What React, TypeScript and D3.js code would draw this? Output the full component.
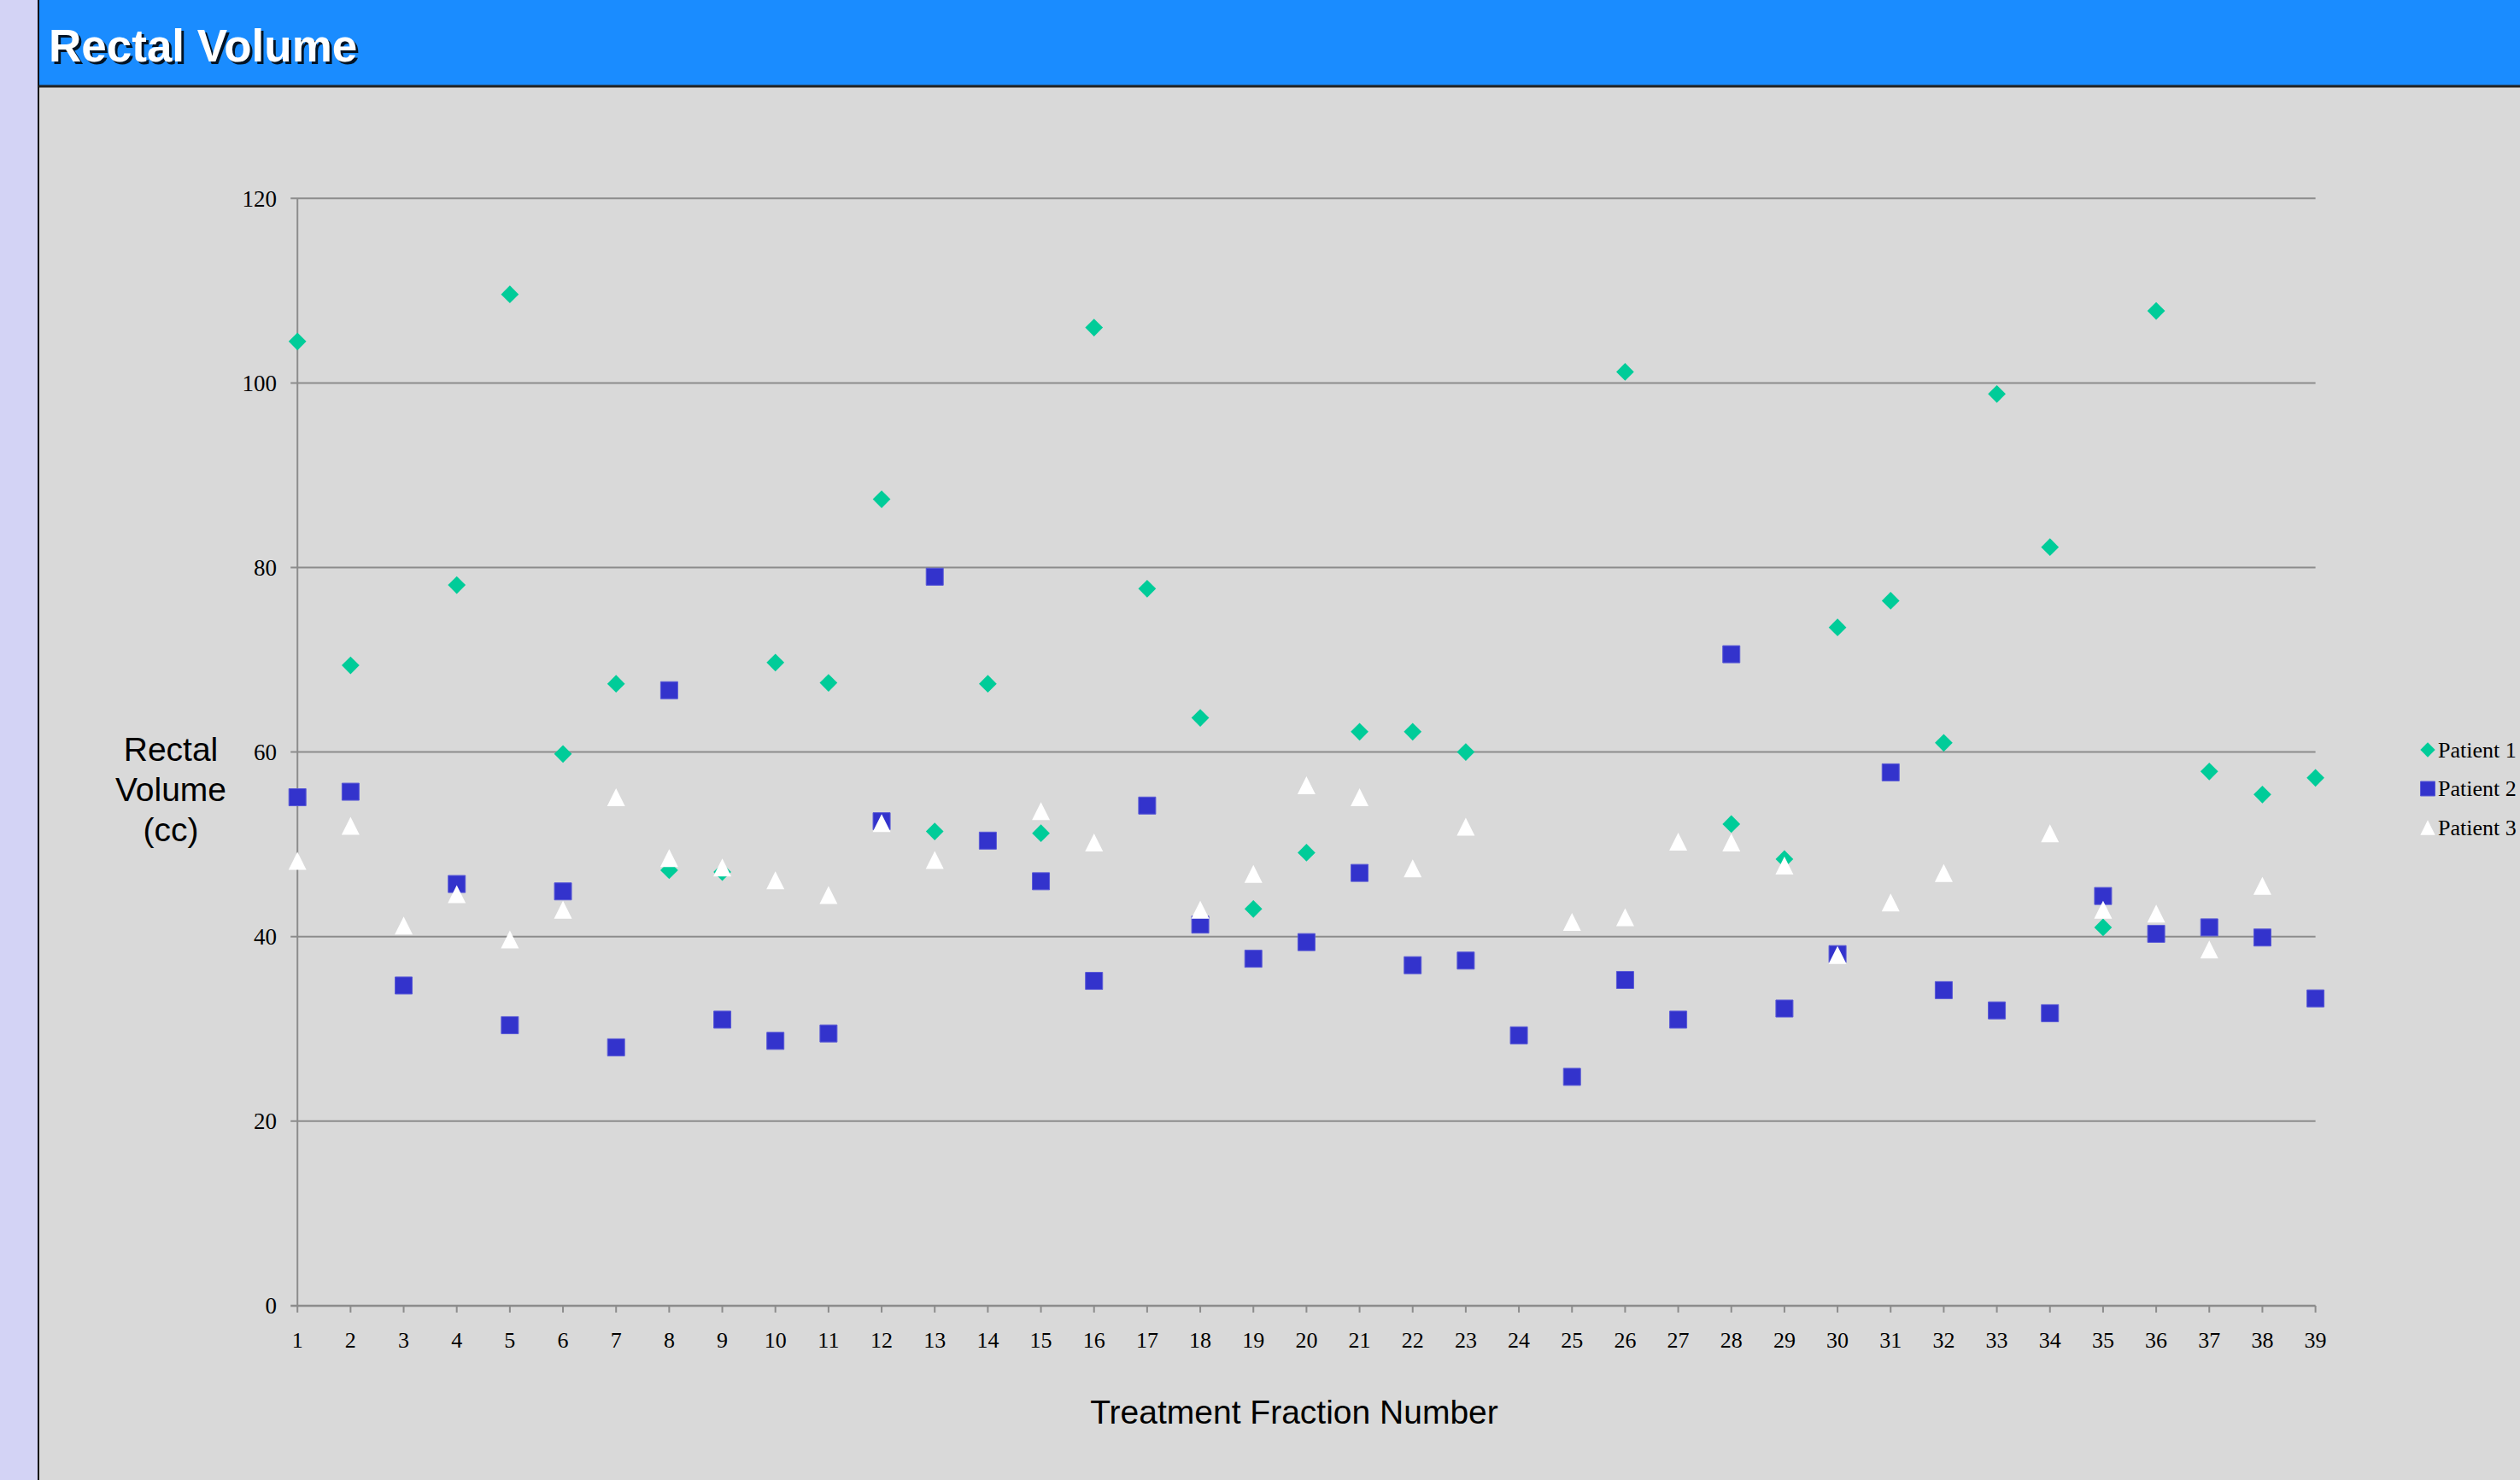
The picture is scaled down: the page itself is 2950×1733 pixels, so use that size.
import * as d3 from 'd3';
import React from 'react';

// treatment fractions (x categories)
const fractions = [
  1, 2, 3, 4, 5, 6, 7, 8, 9, 10, 11, 12, 13, 14, 15, 16, 17, 18, 19, 20,
  21, 22, 23, 24, 25, 26, 27, 28, 29, 30, 31, 32, 33, 34, 35, 36, 37, 38, 39,
];

// rectal volume (cc) per fraction, null = no marker drawn
const patient1 = [
  104.5, 69.4, null, 78.1, 109.6, 59.8, 67.4, 47.2, 47.0, 69.7, 67.5, 87.4, 51.4,
  67.4, 51.2, 106.0, 77.7, 63.7, 43.0, 49.1, 62.2, 62.2, 60.0, null, null, 101.2,
  null, 52.2, 48.4, 73.5, 76.4, 61.0, 98.8, 82.2, 41.0, 107.8, 57.9, 55.4, 57.2,
];
const patient2 = [
  55.1, 55.7, 34.7, 45.7, 30.4, 44.9, 28.0, 66.7, 31.0, 28.7, 29.5, 52.5, 79.0,
  50.4, 46.0, 35.2, 54.2, 41.3, 37.6, 39.4, 46.9, 36.9, 37.4, 29.3, 24.8, 35.3,
  31.0, 70.6, 32.2, 38.1, 57.8, 34.2, 32.0, 31.7, 44.4, 40.3, 41.0, 39.9, 33.3,
];
const patient3 = [
  48.2, 52.0, 41.2, 44.6, 39.7, 42.9, 55.1, 48.5, 47.5, 46.1, 44.5, 52.3, 48.3,
  null, 53.6, 50.2, null, 42.9, 46.8, 56.4, 55.1, 47.4, 51.9, null, 41.6, 42.1,
  50.3, 50.2, 47.7, 38.0, 43.7, 46.9, null, 51.2, 42.9, 42.5, 38.6, 45.5, null,
];

const yTicks = [0, 20, 40, 60, 80, 100, 120];
const seriesNames = ['Patient 1', 'Patient 2', 'Patient 3'];

// boxed triangle, centred on its bounding box like the spreadsheet markers
const triangleBox = {
  draw(ctx: any, size: number) {
    const s = Math.sqrt(size);
    ctx.moveTo(0, -s / 2);
    ctx.lineTo(s / 2, s / 2);
    ctx.lineTo(-s / 2, s / 2);
    ctx.closePath();
  },
};

const W = 2950;
const H = 1733;
const left = 348.2;
const right = 2710.6;
const top = 232.3;
const bottom = 1528.9;

const App = () => {
  const x = d3.scaleLinear().domain([1, 39]).range([left, right]);
  const y = d3.scaleLinear().domain([0, 120]).range([bottom, top]);

  const series = [
    { name: seriesNames[0], values: patient1, fill: '#00cc99', stroke: 'none', type: d3.symbolSquare, size: 215, rot: 45, legendSize: 150 },
    { name: seriesNames[1], values: patient2, fill: '#3333cc', stroke: '#5a5ad6', type: d3.symbolSquare, size: 400, rot: 0, legendSize: 289 },
    { name: seriesNames[2], values: patient3, fill: '#ffffff', stroke: 'none', type: triangleBox, size: 441, rot: 0, legendSize: 300 },
  ];

  const serif = '"Liberation Serif", "Times New Roman", Times, serif';
  const sans = '"Liberation Sans", Arial, Helvetica, sans-serif';
  const grid = '#8c8c8c';

  return (
    <div style={{ position: 'absolute', left: 0, top: 0 }}>
      <svg width={W} height={H} style={{ display: 'block' }}>
        <rect x={0} y={0} width={W} height={H} fill="#d9d9d9" />
        {/* left strip */}
        <rect x={0} y={0} width={45} height={H} fill="#d3d3f5" />
        <line x1={45} x2={45} y1={0} y2={H} stroke="#111" strokeWidth={2} />
        {/* title bar */}
        <rect x={46} y={0} width={W - 46} height={100} fill="#1a8cff" />
        <line x1={45} x2={W} y1={101} y2={101} stroke="#222" strokeWidth={3} />
        <text x={60} y={75} fontFamily={sans} fontWeight="bold" fontSize={53} fill="#000" opacity={0.85}>
          Rectal Volume
        </text>
        <text x={57} y={72} fontFamily={sans} fontWeight="bold" fontSize={53} fill="#fff">
          Rectal Volume
        </text>

        {/* grid lines and y ticks */}
        {yTicks.map((t) => (
          <g key={`y${t}`}>
            <line x1={left - 8} x2={right} y1={y(t)} y2={y(t)} stroke={grid} strokeWidth={t === 0 ? 2.5 : 2} />
            <text x={324} y={y(t)} dy="0.35em" textAnchor="end" fontFamily={serif} fontSize={27} fill="#000">
              {t}
            </text>
          </g>
        ))}
        <line x1={left} x2={left} y1={top} y2={bottom} stroke={grid} strokeWidth={2} />

        {/* x ticks */}
        {fractions.map((f) => (
          <g key={`x${f}`}>
            <line x1={x(f)} x2={x(f)} y1={bottom} y2={bottom + 8} stroke={grid} strokeWidth={2} />
            <text x={x(f)} y={1569} dy="0.35em" textAnchor="middle" fontFamily={serif} fontSize={26} fill="#000">
              {f}
            </text>
          </g>
        ))}

        {/* markers */}
        {series.map((s) => (
          <g key={s.name}>
            {s.values.map((v, i) =>
              v == null ? null : (
                <path
                  key={i}
                  d={d3.symbol().type(s.type as any).size(s.size)() as string}
                  transform={`translate(${x(fractions[i])},${y(v)}) rotate(${s.rot})`}
                  fill={s.fill}
                  stroke={s.stroke}
                  strokeWidth={1}
                />
              )
            )}
          </g>
        ))}

        {/* axis titles */}
        <text x={1515} y={1653} dy="0.35em" textAnchor="middle" fontFamily={sans} fontSize={39} fill="#000">
          Treatment Fraction Number
        </text>
        {['Rectal', 'Volume', '(cc)'].map((l, i) => (
          <text key={l} x={200} y={877 + i * 47} dy="0.35em" textAnchor="middle" fontFamily={sans} fontSize={39} fill="#000">
            {l}
          </text>
        ))}

        {/* legend */}
        {series.map((s, i) => (
          <g key={`lg${s.name}`} transform={`translate(0,${878 + i * 45.5})`}>
            <path
              d={d3.symbol().type(s.type as any).size(s.legendSize)() as string}
              transform={`translate(2842,0) rotate(${s.rot})`}
              fill={s.fill}
              stroke={s.stroke}
              strokeWidth={1}
            />
            <text x={2854} y={0} dy="0.33em" fontFamily={serif} fontSize={26} fill="#000">
              {s.name}
            </text>
          </g>
        ))}
      </svg>
    </div>
  );
};

export default App;
